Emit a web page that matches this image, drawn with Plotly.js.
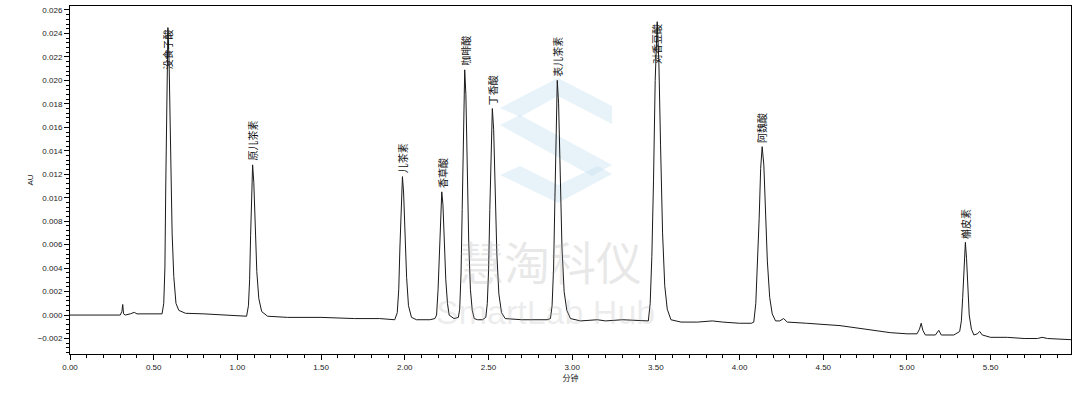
<!DOCTYPE html>
<html>
<head>
<meta charset="utf-8">
<script src="https://cdn.plot.ly/plotly-3.0.1.min.js"></script>
<style>html,body{margin:0;padding:0;background:#fff;}#chart{width:1080px;height:408px;}</style>
</head>
<body>
<div id="chart"></div>
<script>
// Chromatogram trace (time in minutes, absorbance in AU)
const timeMin = [
  0.000, 0.300, 0.310, 0.315, 0.320, 0.330, 0.360, 0.384, 0.400, 0.450, 0.500, 0.540,
  0.550, 0.560, 0.567, 0.572, 0.578, 0.585, 0.592, 0.600, 0.610, 0.620, 0.633, 0.650, 0.690,
  0.800, 0.900, 1.000,
  1.055, 1.066, 1.073, 1.079, 1.085, 1.091, 1.098, 1.106, 1.116, 1.128, 1.145, 1.180,
  1.300, 1.500, 1.700, 1.850, 1.940,
  1.955, 1.964, 1.971, 1.979, 1.986, 1.993, 2.001, 2.011, 2.022, 2.040, 2.070, 2.150, 2.180,
  2.190, 2.199, 2.206, 2.214, 2.221, 2.228, 2.236, 2.245, 2.255, 2.265, 2.294, 2.320,
  2.328, 2.336, 2.343, 2.350, 2.358, 2.365, 2.373, 2.382, 2.392, 2.403, 2.415, 2.435, 2.464,
  2.484, 2.493, 2.501, 2.508, 2.516, 2.523, 2.531, 2.540, 2.550, 2.562, 2.578, 2.600, 2.700, 2.850,
  2.870, 2.880, 2.889, 2.897, 2.904, 2.911, 2.919, 2.928, 2.939, 2.952, 2.968, 2.990,
  3.050, 3.150, 3.200, 3.300, 3.420,
  3.455, 3.466, 3.476, 3.486, 3.496, 3.508, 3.518, 3.528, 3.540, 3.553, 3.568, 3.590,
  3.650, 3.750, 3.837, 3.900, 4.000, 4.070,
  4.085, 4.097, 4.107, 4.117, 4.126, 4.135, 4.145, 4.155, 4.166, 4.180, 4.195, 4.215,
  4.240, 4.263, 4.285, 4.400, 4.500, 4.600, 4.750, 4.900, 5.000,
  5.060, 5.075, 5.085, 5.095, 5.110, 5.170, 5.190, 5.205, 5.280, 5.315,
  5.325, 5.333, 5.341, 5.349, 5.356, 5.363, 5.372, 5.385, 5.400, 5.420, 5.435, 5.450,
  5.500, 5.600, 5.700, 5.780, 5.807, 5.840, 5.980
];
const absorbanceAU = [
  0.0000, 0.0000, 0.0003, 0.0009, 0.0001, 0.0000, 0.0001, 0.00023, 0.0001, 0.0001, 0.0001, 0.0001,
  0.0001, 0.0010, 0.0040, 0.0110, 0.0200, 0.0245, 0.0215, 0.0140, 0.0070, 0.0033, 0.0010, 0.0004, 0.00015,
  0.0001, 0.0000, -0.0001,
  -0.0001, 0.0008, 0.0030, 0.0068, 0.0110, 0.0128, 0.0113, 0.0075, 0.0037, 0.0014, 0.0003, -0.0001,
  -0.0002, -0.0002, -0.0003, -0.0003, -0.0004,
  0.0002, 0.0022, 0.0058, 0.0100, 0.0118, 0.0104, 0.0068, 0.0032, 0.0008, -0.0002, -0.0004, -0.0004, -0.0003,
  0.0000, 0.0022, 0.0055, 0.0092, 0.0105, 0.0094, 0.0062, 0.0030, 0.0010, 0.0000, -0.0003, -0.0002,
  0.0005, 0.0035, 0.0090, 0.0165, 0.0209, 0.0188, 0.0125, 0.0062, 0.0022, 0.0004, -0.0003, -0.0004, -0.0004,
  -0.0002, 0.0010, 0.0040, 0.0090, 0.0150, 0.0176, 0.0158, 0.0105, 0.0052, 0.0018, 0.0002, -0.0003, -0.0004, -0.0004,
  -0.0003, 0.0008, 0.0040, 0.0100, 0.0170, 0.0200, 0.0180, 0.0120, 0.0058, 0.0020, 0.0004, -0.0003,
  -0.0005, -0.0004, -0.0005, -0.0004, -0.0005,
  -0.0005, 0.0010, 0.0050, 0.0115, 0.0200, 0.0250, 0.0215, 0.0145, 0.0070, 0.0025, 0.0005, -0.0004,
  -0.0006, -0.0006, -0.0005, -0.0006, -0.0007, -0.0007,
  -0.0006, 0.0010, 0.0040, 0.0082, 0.0125, 0.01435, 0.0128, 0.0088, 0.0046, 0.0015, 0.0001, -0.0005,
  -0.0005, -0.0003, -0.0006, -0.0007, -0.0008, -0.0009, -0.0012, -0.0015, -0.0016,
  -0.0016, -0.0012, -0.0007, -0.0013, -0.0017, -0.0017, -0.0013, -0.0017, -0.0017, -0.0014,
  -0.0005, 0.0015, 0.0045, 0.0062, 0.0048, 0.0020, 0.0000, -0.0012, -0.0017, -0.0016, -0.0014, -0.0017,
  -0.0019, -0.0019, -0.0020, -0.0020, -0.0019, -0.0020, -0.0021
];

// Peak labels
const peakNames = ["没食子酸", "原儿茶素", "儿茶素", "香草酸", "咖啡酸", "丁香酸", "表儿茶素", "对香豆酸", "阿魏酸", "槲皮素"];
const peakTimes = [0.585, 1.091, 1.986, 2.221, 2.358, 2.523, 2.911, 3.508, 4.135, 5.349];
const peakHeights = [0.0245, 0.0128, 0.0118, 0.0105, 0.0209, 0.0176, 0.0200, 0.0250, 0.01435, 0.0062];

const xTickVals = [0, 0.5, 1, 1.5, 2, 2.5, 3, 3.5, 4, 4.5, 5, 5.5];
const xTickText = ["0.00", "0.50", "1.00", "1.50", "2.00", "2.50", "3.00", "3.50", "4.00", "4.50", "5.00", "5.50"];
const yTickVals = [-0.002, 0, 0.002, 0.004, 0.006, 0.008, 0.010, 0.012, 0.014, 0.016, 0.018, 0.020, 0.022, 0.024, 0.026];

const xRange = [0, 5.98];
const yRange = [-0.00332, 0.02634];
const margin = {l: 70, r: 9, t: 6, b: 54};
const plotW = 1080 - margin.l - margin.r;
const plotH = 408 - margin.t - margin.b;
const pxPerAU = plotH / (yRange[1] - yRange[0]);

const labelFont = {family: "Noto Sans CJK SC, Noto Sans CJK JP, sans-serif", size: 10, color: "#111"};
const charPx = 10.5;
const annotations = peakNames.map((name, i) => {
  const len = name.length * charPx;
  const peakFromTop = (yRange[1] - peakHeights[i]) * pxPerAU;
  let shift;
  if (peakFromTop - 3 - len >= 2) {
    shift = 3 + len / 2;
  } else {
    shift = -(len / 2) - 1;
  }
  return {
    x: peakTimes[i], y: peakHeights[i], xref: "x", yref: "y",
    text: name, showarrow: false, textangle: -90,
    xanchor: "center", yanchor: "middle", yshift: shift,
    font: labelFont
  };
});

// faint watermark text
annotations.push({
  xref: "paper", yref: "paper", x: 0.48, y: 0.27, xanchor: "center", yanchor: "middle",
  text: "慧淘科仪", showarrow: false,
  font: {family: "Noto Sans CJK SC, sans-serif", size: 46, color: "rgba(165,165,165,0.25)"}
});
annotations.push({
  xref: "paper", yref: "paper", x: 0.475, y: 0.12, xanchor: "center", yanchor: "middle",
  text: "SmartLab Hub", showarrow: false,
  font: {family: "Liberation Sans, Arial, sans-serif", size: 34, color: "rgba(170,170,170,0.22)"}
});

// faint watermark logo (page pixels -> paper coordinates)
function logoPath(pts) {
  return "M" + pts.map(p => ((p[0] - margin.l) / plotW).toFixed(4) + "," + ((408 - margin.b - p[1]) / plotH).toFixed(4)).join("L") + "Z";
}
const logoPolys = [
  [[500,108],[558,78],[612,106],[612,124],[558,96],[520,117]],
  [[500,125],[520,115],[612,165],[592,176]],
  [[500,175],[520,166],[558,185],[598,166],[612,174],[558,203]]
];
const shapes = logoPolys.map(p => ({
  type: "path", xref: "paper", yref: "paper", path: logoPath(p),
  fillcolor: "rgba(195,224,240,0.38)", line: {width: 0}, layer: "below"
}));

const tickFont = {family: "Liberation Sans, Arial, sans-serif", size: 8, color: "#222"};

const data = [{
  x: timeMin, y: absorbanceAU, type: "scatter", mode: "lines",
  line: {color: "#1a1a1a", width: 1},
  hoverinfo: "x+y"
}];

const layout = {
  width: 1080, height: 408,
  margin: margin,
  paper_bgcolor: "#fff", plot_bgcolor: "rgba(0,0,0,0)",
  showlegend: false,
  xaxis: {
    range: xRange, showgrid: false, zeroline: false,
    showline: true, linecolor: "#000", linewidth: 1, mirror: true,
    ticks: "outside", ticklen: 5, tickwidth: 1, tickcolor: "#000",
    tickvals: xTickVals, ticktext: xTickText, tickfont: tickFont,
    minor: {dtick: 0.1, ticks: "outside", ticklen: 3, tickcolor: "#000", showgrid: false},
    title: {text: "分钟", font: {family: "Noto Sans CJK SC, sans-serif", size: 8, color: "#222"}, standoff: 4}
  },
  yaxis: {
    range: yRange, showgrid: false, zeroline: false,
    showline: true, linecolor: "#000", linewidth: 1, mirror: true,
    ticks: "outside", ticklen: 5, tickwidth: 1, tickcolor: "#000",
    tickvals: yTickVals, tickformat: ".3f", tickfont: tickFont,
    minor: {dtick: 0.0004, ticks: "outside", ticklen: 3, tickcolor: "#000", showgrid: false},
    title: {text: "AU", font: {family: "Liberation Sans, Arial, sans-serif", size: 8, color: "#222"}, standoff: 2}
  },
  shapes: shapes,
  annotations: annotations
};

Plotly.newPlot("chart", data, layout, {displayModeBar: false, staticPlot: true});
</script>
</body>
</html>
